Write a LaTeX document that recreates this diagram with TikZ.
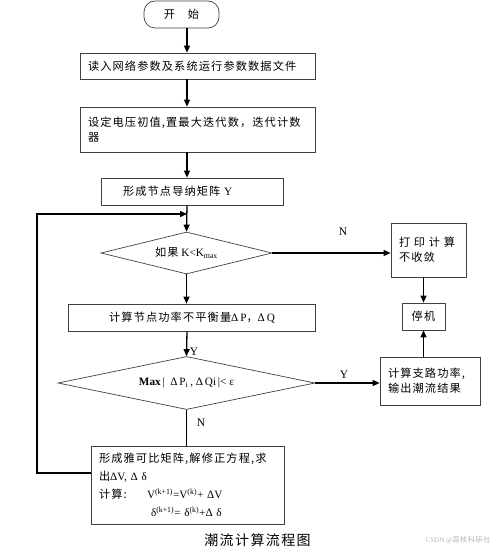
\documentclass[tikz,border=0pt]{standalone}
\usepackage{fontspec}
\setmainfont{Liberation Serif}
\newfontfamily\cjk[LetterSpace=10]{Noto Sans CJK SC}
\usetikzlibrary{arrows.meta,shapes.geometric,positioning}

\tikzset{
	box/.style={draw=black!75, line width=0.7pt, rectangle, inner xsep=8pt, inner ysep=0pt, font=\fontsize{11.2}{15}\selectfont},
	cond/.style={draw=black!75, line width=0.7pt, diamond, aspect=4, inner sep=0pt, font=\fontsize{11.2}{15}\selectfont},
	flow/.style={line width=1.3pt, -{Triangle[length=7pt,width=6pt]}},
	lbl/.style={font=\fontsize{11.5}{13}\selectfont}
}

\begin{document}
\begin{tikzpicture}[x=1pt, y=-1pt]
			%%%%% START %%%%%
			\useasboundingbox (0,0) rectangle (500,548);
			\coordinate (col) at (187,0);
			\coordinate (loop) at (187,214);
			
			\node[box, rounded corners=11pt, minimum width=75pt, minimum height=27pt] (start) at (181.5,14.5) {\cjk 开\hspace{13pt}始};
			
			\node[box, minimum width=235pt, minimum height=26pt, text width=219pt, align=left] (read) at (197.5,66) {\cjk 读入网络参数及系统运行参数数据文件};
			\node[box, minimum width=235pt, minimum height=45pt, text width=219pt, align=left] (init) at (197.5,129.5) {\cjk 设定电压初值,置最大迭代数，迭代计数\\器};
			\node[box, minimum width=182pt, minimum height=27pt, text width=166pt, align=left] (ymat) at (192,191.5) {\hspace{14pt}{\cjk 形成节点导纳矩阵} Y};
			
			\node[cond, minimum width=171pt, minimum height=42pt] (kmax) at (186.5,253) {{\cjk 如果} K<K\textsubscript{max}};
			\node[box, minimum width=247pt, minimum height=27pt] (dpq) at (192,317.5) {{\cjk 计算节点功率不平衡量}Δ\,P{\cjk ，}Δ\,Q};
			\node[cond, minimum width=257pt, minimum height=53pt] (conv) at (186.5,383) {\textbf{Max}\,|\ \ Δ\,P\textsubscript{i}\,, Δ\,Qi\,|< ε};
			
			\node[box, minimum width=193pt, minimum height=78pt, text width=177pt, align=left, font=\fontsize{11.2}{18}\selectfont] (jac) at (187.5,485) {{\cjk 形成雅可比矩阵,解修正方程,求}\\{\cjk 出}ΔV, Δ δ\\\makebox[48pt][l]{\cjk 计算:}V\textsuperscript{(k+1)}=V\textsuperscript{(k)}+ ΔV\\\hspace*{52pt}δ\textsuperscript{(k+1)}= δ\textsuperscript{(k)}+Δ δ};
			
			\node[box, minimum width=75pt, minimum height=54pt, text width=59pt, align=left] (nocon) at (428.5,250) {\cjk 打 印 计 算\\不收敛};
			\node[box, minimum width=43pt, minimum height=27pt, inner xsep=0pt] (stop) at (423.5,316.5) {\cjk 停机};
			\node[box, minimum width=100pt, minimum height=48pt, text width=84pt, align=left] (branch) at (430,381) {\cjk 计算支路功率,\\输出潮流结果};
			
			% main column
			\draw[flow] (start.south -| col) -- (read.north -| col);
			\draw[flow] (read.south -| col) -- (init.north -| col);
			\draw[flow] (init.south -| col) -- (ymat.north -| col);
			\draw[flow] (ymat.south -| col) -- (kmax.north);
			\draw[flow] (kmax.south) -- (dpq.north -| kmax.south);
			\draw[flow] (dpq.south -| col) -- (conv.north);
			\draw[line width=1.3pt] (conv.south) -- (conv.south |- jac.north);
			
			% loop back
			\draw[flow] ([yshift=12pt]jac.west) -| (37,214) -- (loop);
			
			% right branch
			\draw[flow] (kmax.east) -- (kmax.east -| nocon.west);
			\draw[flow] (nocon.south -| stop.north) -- (stop.north);
			\draw[flow] (conv.east) -- (conv.east -| branch.west);
			\draw[flow] (branch.north -| stop.south) -- (stop.south);
			
			% labels
			\node[lbl] (nkmax) at (343,232) {N};
			\node[lbl] (ydpq) at (194,352) {Y};
			\node[lbl] (yconv) at (344,375) {Y};
			\node[lbl] (nconv) at (201,423) {N};
			
			\node[font=\cjk\fontsize{14}{16}\selectfont] (title) at (257.5,540) {潮流计算流程图};
			\node[font=\fontsize{7}{8}\selectfont, text=black!30] (mark) at (458,540) {CSDN @{\cjk 荔枝科研社}};
			%%%%% END %%%%%
\end{tikzpicture}
\end{document}
